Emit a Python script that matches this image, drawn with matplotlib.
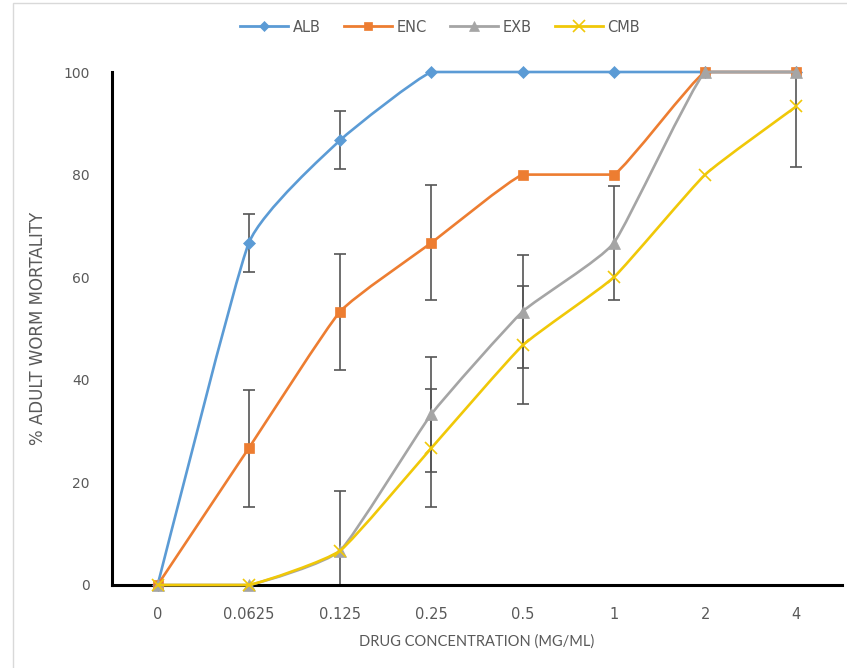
import numpy as np
import matplotlib
matplotlib.use("Agg")
import matplotlib.pyplot as plt
from matplotlib.path import Path
from matplotlib.patches import PathPatch, Rectangle
from matplotlib.lines import Line2D

# data
concentrations = ["0", "0.0625", "0.125", "0.25", "0.5", "1", "2", "4"]
alb = [0, 66.7, 86.7, 100, 100, 100, 100, 100]
enc = [0, 26.7, 53.3, 66.7, 80, 80, 100, 100]
exb = [0, 0, 6.7, 33.3, 53.3, 66.7, 100, 100]
cmb = [0, 0, 6.7, 26.7, 46.7, 60, 80, 93.3]

alb_err = [0, 5.7, 5.7, 0, 0, 0, 0, 0]
enc_err = [0, 11.4, 11.3, 11.2, 0, 0, 0, 0]
exb_err = [0, 0, 11.6, 11.2, 11.0, 11.1, 0, 0]
cmb_err = [0, 0, 0, 11.5, 11.5, 0, 0, 11.8]

names = ["ALB", "ENC", "EXB", "CMB"]
colors = ["#5B9BD5", "#ED7D31", "#A5A5A5", "#F0C808"]
markers = ["D", "s", "^", "x"]
msizes = [6.5, 7, 8, 9]

tick_color = "#595959"


def smooth_path(xs, ys, t=1 / 14):
    # lightly smoothed line; flat stretches stay flat
    n = len(xs)
    verts = [(xs[0], ys[0])]
    codes = [Path.MOVETO]
    for i in range(n - 1):
        a = i - 1 if i > 0 else i
        b = i + 2 if i + 2 < n else i + 1
        c1y = ys[i] + (ys[i + 1] - ys[a]) * t
        c2y = ys[i + 1] - (ys[b] - ys[i]) * t
        if ys[i] == ys[i + 1]:
            c1y = c2y = ys[i]
        c1 = (xs[i] + (xs[i + 1] - xs[a]) * t, c1y)
        c2 = (xs[i + 1] - (xs[b] - xs[i]) * t, c2y)
        verts += [c1, c2, (xs[i + 1], ys[i + 1])]
        codes += [Path.CURVE4] * 3
    return Path(verts, codes)


fig = plt.figure(figsize=(8.47, 6.68), dpi=100)
ax = fig.add_axes([112 / 847, 83 / 668, 730 / 847, 513 / 668])

x = np.arange(len(concentrations))
series = [alb, enc, exb, cmb]
errs = [alb_err, enc_err, exb_err, cmb_err]

for k, (ys, er) in enumerate(zip(series, errs)):
    e = np.array(er)
    keep = e > 0
    if keep.any():
        ax.errorbar(x[keep], np.array(ys)[keep], yerr=e[keep], fmt="none",
                    ecolor="#555555", elinewidth=1.2, capsize=4, capthick=1.2, zorder=2)

for k, ys in enumerate(series):
    patch = PathPatch(smooth_path(x, ys), facecolor="none", edgecolor=colors[k],
                      lw=1.9, zorder=3 + k, clip_on=False)
    ax.add_patch(patch)
    ax.plot(x, ys, linestyle="none", marker=markers[k], ms=msizes[k],
            color=colors[k], mew=1.2 if markers[k] == "x" else 0.5,
            zorder=3 + k, clip_on=False)

ax.set_xlim(-0.5, 7.5)
ax.set_ylim(0, 100)
ax.set_xticks(x)
ax.set_xticklabels(concentrations)
ax.set_yticks(range(0, 101, 20))
ax.tick_params(length=0, colors=tick_color, labelsize=10)
ax.tick_params(axis="x", pad=16, labelsize=10.5)
ax.tick_params(axis="y", pad=16)
for s in ["top", "right"]:
    ax.spines[s].set_visible(False)
ax.spines["left"].set_linewidth(2.2)
ax.spines["bottom"].set_linewidth(2.2)

ax.set_xlabel("DRUG CONCENTRATION (MG/ML)", color=tick_color, fontsize=10.5,
              family=["Lato", "DejaVu Sans"], labelpad=9)
ax.set_ylabel("% ADULT WORM MORTALITY", color=tick_color, fontsize=12, labelpad=12)

handles = [Line2D([], [], color=colors[k], lw=2, marker=markers[k], ms=msizes[k] - 1,
                  mew=1.2 if markers[k] == "x" else 0.5) for k in range(4)]
leg = fig.legend(handles, names, loc="center", bbox_to_anchor=(440 / 847, 1 - 27 / 668),
                 ncol=4, frameon=False, fontsize=10.5, handlelength=3.3, columnspacing=1.6,
                 handletextpad=0.3)
for t in leg.get_texts():
    t.set_color(tick_color)

fig.patches.append(Rectangle((13 / 847, -0.01), 1.0, 1 - 3 / 668 + 0.01,
                             transform=fig.transFigure, fill=False,
                             edgecolor="#D9D9D9", lw=1))

fig.savefig("out.png", dpi=100)
